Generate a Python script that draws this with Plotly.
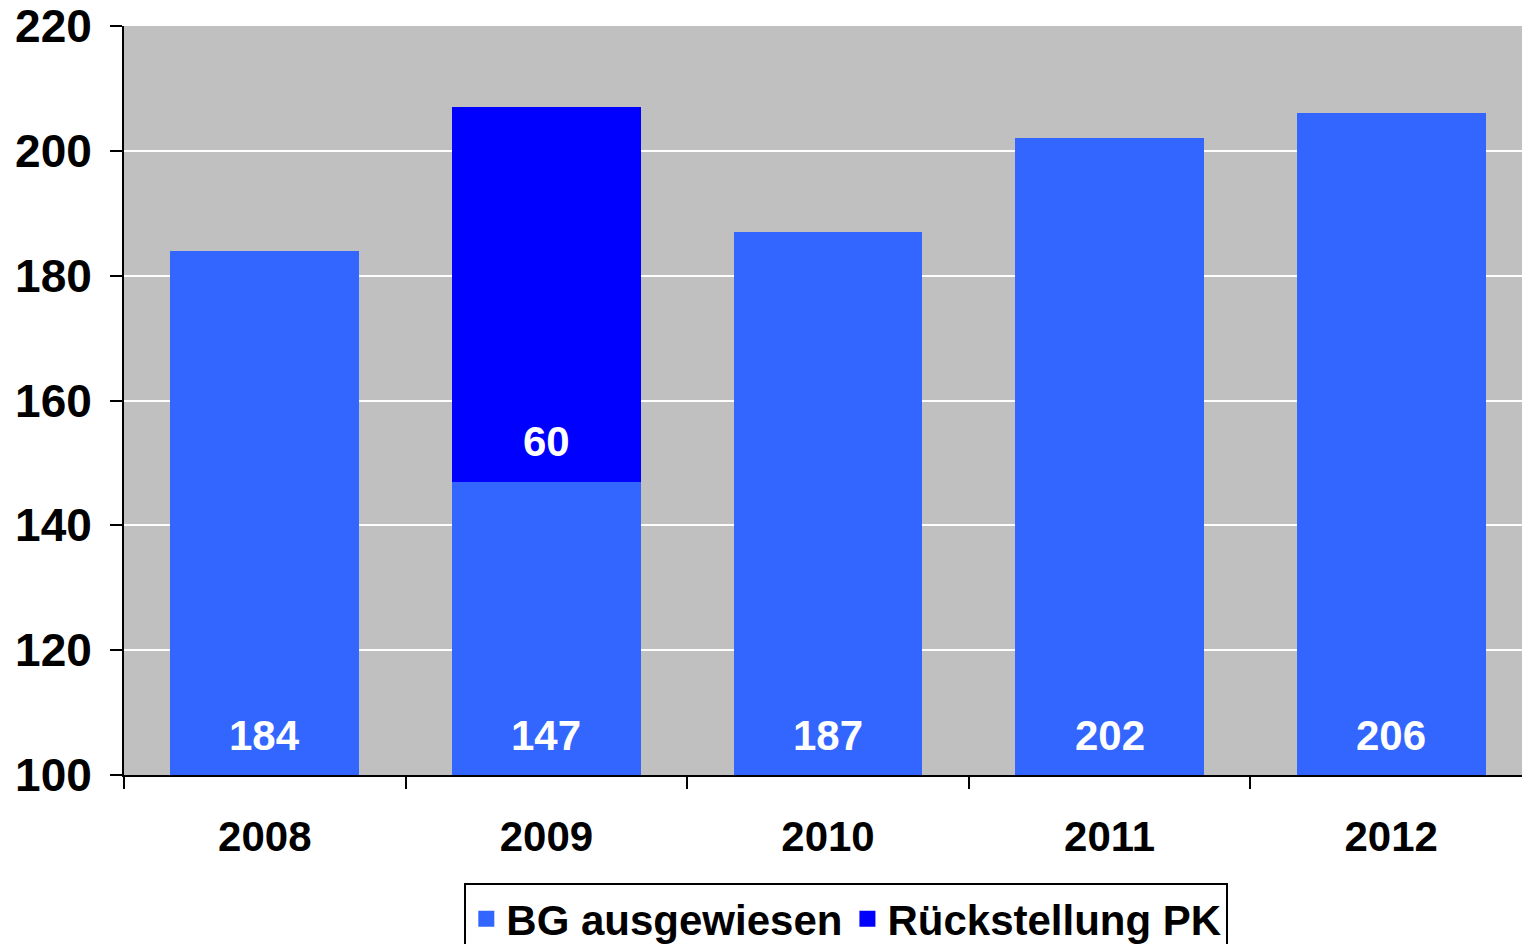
import plotly.graph_objects as go

years = ["2008", "2009", "2010", "2011", "2012"]
bg_ausgewiesen = [184, 147, 187, 202, 206]
rueckstellung_pk = [None, 60, None, None, None]
y_ticks = [100, 120, 140, 160, 180, 200, 220]
axis_min, axis_max = 100, 220

FONT = "Arial, Liberation Sans, sans-serif"
LABEL_FONT = dict(family=FONT, size=42, color="white", weight="bold")

fig = go.Figure()
fig.add_trace(go.Bar(
    x=years, y=bg_ausgewiesen, name="BG ausgewiesen", showlegend=False,
    marker=dict(color="#3366FF", line=dict(width=0)),
))
fig.add_trace(go.Bar(
    x=years, y=rueckstellung_pk, name="Rückstellung PK", showlegend=False,
    marker=dict(color="#0000FF", line=dict(width=0)),
))
# legend entries with larger square swatches
fig.add_trace(go.Scatter(x=[None], y=[None], mode="markers", name="BG ausgewiesen",
                         marker=dict(symbol="square", size=16, color="#3366FF")))
fig.add_trace(go.Scatter(x=[None], y=[None], mode="markers", name="Rückstellung PK",
                         marker=dict(symbol="square", size=16, color="#0000FF")))

# value labels near the foot of each visible segment (x given as category index)
annotations = []
for i, v in enumerate(bg_ausgewiesen):
    annotations.append(dict(x=i, y=axis_min, text=str(v), showarrow=False,
                            yanchor="middle", yshift=40, font=LABEL_FONT))
for i, (b, p) in enumerate(zip(bg_ausgewiesen, rueckstellung_pk)):
    if p is not None:
        annotations.append(dict(x=i, y=b, text=str(p), showarrow=False,
                                yanchor="middle", yshift=40, font=LABEL_FONT))

fig.update_layout(
    barmode="stack", bargap=0.33,
    width=1532, height=944,
    margin=dict(l=124, r=0, t=26, b=169, autoexpand=False),
    paper_bgcolor="white", plot_bgcolor="#C0C0C0",
    font=dict(family=FONT, size=42, color="black", weight="bold"),
    showlegend=True,
    annotations=annotations,
    legend=dict(
        orientation="h", x=0.513, xanchor="center", y=-0.144, yanchor="top",
        bordercolor="black", borderwidth=2, bgcolor="white",
        font=dict(family=FONT, size=42, color="black", weight="bold"),
        traceorder="normal", itemwidth=30,
    ),
)
fig.update_xaxes(
    type="category", categoryorder="array", categoryarray=years,
    range=[-0.5, len(years) - 0.5],
    showline=True, linecolor="black", linewidth=2,
    ticks="outside", tickson="boundaries", ticklen=12, tickcolor="black", tickwidth=2,
    showgrid=False, automargin=False,
    tickfont=dict(family=FONT, size=42, color="black", weight="bold"),
    ticklabelstandoff=24, ticklabeloverflow="allow",
)
fig.update_yaxes(
    range=[axis_min, axis_max], tickvals=y_ticks,
    showline=True, linecolor="black", linewidth=2,
    ticks="outside", ticklen=12, tickcolor="black", tickwidth=2,
    showgrid=True, gridcolor="white", gridwidth=2, automargin=False,
    tickfont=dict(family=FONT, size=46, color="black", weight="bold"),
    ticklabelstandoff=9, zeroline=False, ticklabeloverflow="allow",
)

fig.write_html(
    "out.html",
    config={"displayModeBar": False},
    post_script="document.body.style.margin='0';document.body.style.overflow='hidden';",
)
